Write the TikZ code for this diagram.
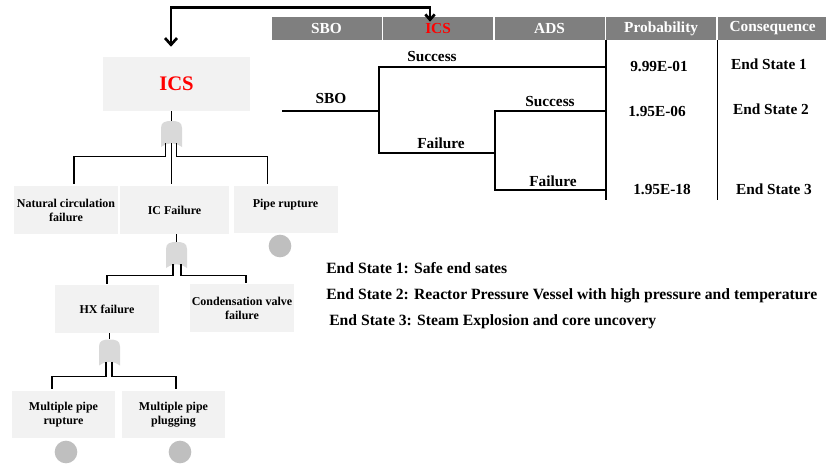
\documentclass[tikz,border=0pt]{standalone}
\usepackage{fontspec}
\setmainfont{Liberation Serif}
\usetikzlibrary{arrows.meta,positioning,calc}
\definecolor{hdrgray}{HTML}{7F7F7F}
\definecolor{boxgray}{HTML}{F2F2F2}
\definecolor{gategray}{HTML}{D9D9D9}
\definecolor{leafgray}{HTML}{BFBFBF}
\definecolor{icsred}{HTML}{FF0000}

\begin{document}
\begin{tikzpicture}[x=0.75pt,y=-0.75pt,node distance=0.75pt,
 hdr/.style={fill=hdrgray,text=white,font=\bfseries\fontsize{11.5}{13}\selectfont,minimum width=82.5pt,minimum height=17.25pt,inner sep=0pt},
 fbox/.style={fill=boxgray,align=center,font=\bfseries\fontsize{9}{10.5}\selectfont,minimum width=78pt,minimum height=36pt,inner sep=1pt},
 gate/.style={minimum width=15.75pt,minimum height=19.5pt,inner sep=0pt,
   path picture={\fill[gategray,shift={(path picture bounding box.center)}]
     (-10.5,13) -- (-10.5,-6) .. controls (-10.5,-12) and (-6,-13) .. (0,-13)
     .. controls (6,-13) and (10.5,-12) .. (10.5,-6) -- (10.5,13)
     .. controls (3,8) and (-3,8) .. (-10.5,13) -- cycle;}},
 leaf/.style={circle,fill=leafgray,minimum size=17pt,inner sep=0pt},
 link/.style={line width=0.8pt},
 branch/.style={line width=1pt},
 col/.style={line width=1.1pt},
 lbl/.style={font=\bfseries\fontsize{11.5}{13}\selectfont,inner sep=0pt},
 note/.style={font=\bfseries\fontsize{11.75}{13}\selectfont,inner sep=0pt,anchor=west},
 flow/.style={line width=2pt,{Straight Barb[length=5pt,width=9pt]}-{Straight Barb[length=4pt,width=7pt]}}]
\useasboundingbox (0,0) rectangle (826,464);

% event tree header
\node[hdr] (hsbo) at (326.5,28.5) {SBO};
\node[hdr,right=of hsbo] (hics) {\textcolor{icsred}{ICS}};
\node[hdr,right=of hics] (hads) {ADS};
\node[hdr,right=of hads] (hprob) {Probability};
\node[hdr,right=of hprob] (hcons) {Consequence};
\draw[col] (hprob.south west) -- ++(0,160);
\draw[col] (hcons.south west) -- ++(0,160);

% event tree branches
\coordinate (root) at (282,111);
\coordinate (n1) at (379,111);
\coordinate (n2) at (495,153);
\coordinate (end1) at (605,67);
\coordinate (end2) at (605,111);
\coordinate (end3) at (605,190);
\draw[branch] (root) -- (n1);
\draw[branch] (n1) |- (end1);
\draw[branch] (n1) |- (n2);
\draw[branch] (n2) |- (end2);
\draw[branch] (n2) |- (end3);
\node[lbl] (tsbo) at (331,98) {SBO};
\node[lbl] (ts1) at (432,57) {Success};
\node[lbl] (tf1) at (441,143) {Failure};
\node[lbl] (ts2) at (550,102) {Success};
\node[lbl] (tf2) at (553,181) {Failure};
\node[lbl] (p1) at (659,67) {9.99E-01};
\node[lbl] (p2) at (657,112) {1.95E-06};
\node[lbl] (p3) at (662,190) {1.95E-18};
\node[lbl] (c1) at (769,64) {End State 1};
\node[lbl] (c2) at (771,109) {End State 2};
\node[lbl] (c3) at (774,189) {End State 3};

% fault tree
\node[fbox,minimum width=110.25pt,minimum height=40.5pt,font=\bfseries\fontsize{15.5}{18}\selectfont,text=icsred] (ics) at (176.5,84) {ICS};
\node[gate] (g1) at (171.5,134) {};
\node[fbox] (nat) at (66,210) {Natural circulation\\failure};
\node[fbox,minimum width=81.75pt] (icf) at (174.5,210) {IC Failure};
\node[fbox,minimum height=35.25pt,text depth=9pt] (pipe) at (285.5,209.5) {Pipe rupture};
\node[leaf] (lpipe) at (280,246) {};
\node[gate] (g2) at (176.5,255) {};
\node[fbox] (hx) at (107,309) {HX failure};
\node[fbox] (cond) at (242,308) {Condensation valve\\failure};
\node[gate] (g3) at (109.5,352.5) {};
\node[fbox,minimum width=77.25pt,minimum height=35.25pt] (mpr) at (63.5,414.5) {Multiple pipe\\rupture};
\node[fbox,minimum width=77.25pt,minimum height=35.25pt] (mpp) at (173.5,414.5) {Multiple pipe\\plugging};
\node[leaf] (lmpr) at (66,452) {};
\node[leaf] (lmpp) at (180,452) {};

\draw[link] (g1.north |- ics.south) -- (g1.north);
\draw[link] ($(g1.south)+(-6,-4)$) -- ++(0,13) -| ($(nat.north)+(8,-2)$);
\draw[link] ($(g1.south)+(0,-4)$) -- ($(g1.south |- icf.north)+(0,-2)$);
\draw[link] ($(g1.south)+(5,-4)$) -- ++(0,13) -| ($(pipe.north)+(-18,-2)$);
\draw[link] (g2.north |- icf.south) -- (g2.north);
\draw[link] ($(g2.south)+(-3.5,-4)$) -- ++(0,11) -| ($(hx.north)+(0,-1)$);
\draw[link] ($(g2.south)+(4.5,-4)$) -- ++(0,11) -| ($(cond.north)+(4,-1)$);
\draw[link] (g3.north |- hx.south) -- (g3.north);
\draw[link] ($(g3.south)+(-3.5,-4)$) -- ++(0,15) -| ($(mpr.north)+(-11.5,-2)$);
\draw[link] ($(g3.south)+(2.5,-4)$) -- ++(0,15) -| ($(mpp.north)+(2.5,-2)$);

% link from the ICS heading to the ICS top event
\draw[flow] ($(ics.north)+(-5.5,-10)$) -- ++(0,-39) -| ($(hics.north)+(-8,5)$);

% legend
\node[note] (es1) at (326,268) {End State 1: Safe end sates};
\node[note] (es2) at (326,296) {End State 2: Reactor Pressure Vessel with high pressure and temperature};
\node[note] (es3) at (329,322) {End State 3: Steam Explosion and core uncovery};
\end{tikzpicture}
\end{document}
